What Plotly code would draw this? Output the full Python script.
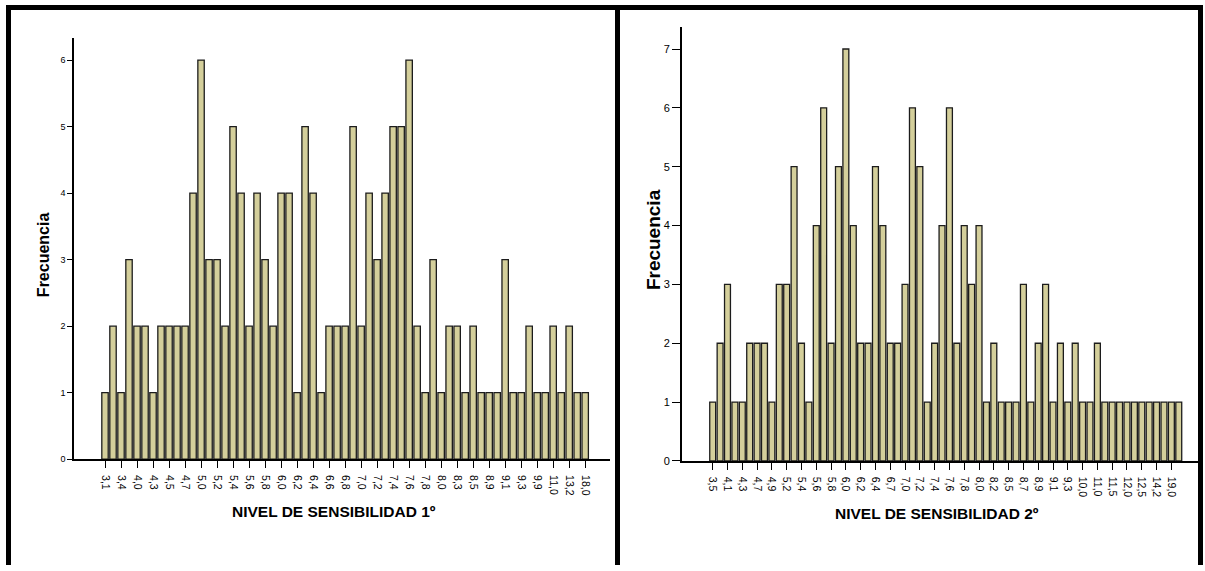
import plotly.graph_objects as go

# ---------------- data ----------------
# Panel 1: NIVEL DE SENSIBILIDAD 1º (every bar is a category; odd ones are labelled)
cats1 = ["3,1", "3,3", "3,4", "3,8", "4,0", "4,2", "4,3", "4,4", "4,5", "4,6",
         "4,7", "4,9", "5,0", "5,1", "5,2", "5,3", "5,4", "5,5", "5,6", "5,7",
         "5,8", "5,9", "6,0", "6,1", "6,2", "6,3", "6,4", "6,5", "6,6", "6,7",
         "6,8", "6,9", "7,0", "7,1", "7,2", "7,3", "7,4", "7,5", "7,6", "7,7",
         "7,8", "7,9", "8,0", "8,2", "8,3", "8,4", "8,5", "8,7", "8,9", "9,0",
         "9,1", "9,2", "9,3", "9,6", "9,9", "10,4", "11,0", "12,0", "13,2", "14,8",
         "18,0"]
freq1 = [1, 2, 1, 3, 2, 2, 1, 2, 2, 2,
         2, 4, 6, 3, 3, 2, 5, 4, 2, 4,
         3, 2, 4, 4, 1, 5, 4, 1, 2, 2,
         2, 5, 2, 4, 3, 4, 5, 5, 6, 2,
         1, 3, 1, 2, 2, 1, 2, 1, 1, 1,
         3, 1, 1, 2, 1, 1, 2, 1, 2, 1,
         1]
ticks1 = ["3,1", "3,4", "4,0", "4,3", "4,5", "4,7", "5,0", "5,2", "5,4", "5,6",
          "5,8", "6,0", "6,2", "6,4", "6,6", "6,8", "7,0", "7,2", "7,4", "7,6",
          "7,8", "8,0", "8,3", "8,5", "8,9", "9,1", "9,3", "9,9", "11,0", "13,2",
          "18,0"]

# Panel 2: NIVEL DE SENSIBILIDAD 2º
cats2 = ["3,5", "3,9", "4,1", "4,2", "4,3", "4,5", "4,7", "4,8", "4,9", "5,0",
         "5,2", "5,3", "5,4", "5,5", "5,6", "5,7", "5,8", "5,9", "6,0", "6,1",
         "6,2", "6,3", "6,4", "6,5", "6,7", "6,8", "7,0", "7,1", "7,2", "7,3",
         "7,4", "7,5", "7,6", "7,7", "7,8", "7,9", "8,0", "8,1", "8,2", "8,3",
         "8,5", "8,6", "8,7", "8,8", "8,9", "9,0", "9,1", "9,2", "9,3", "9,5",
         "10,0", "10,5", "11,0", "11,2", "11,5", "11,8", "12,0", "12,2", "12,5", "13,0",
         "14,2", "15,0", "19,0", "20,0"]
freq2 = [1, 2, 3, 1, 1, 2, 2, 2, 1, 3,
         3, 5, 2, 1, 4, 6, 2, 5, 7, 4,
         2, 2, 5, 4, 2, 2, 3, 6, 5, 1,
         2, 4, 6, 2, 4, 3, 4, 1, 2, 1,
         1, 1, 3, 1, 2, 3, 1, 2, 1, 2,
         1, 1, 2, 1, 1, 1, 1, 1, 1, 1,
         1, 1, 1, 1]
ticks2 = ["3,5", "4,1", "4,3", "4,7", "4,9", "5,2", "5,4", "5,6", "5,8", "6,0",
          "6,2", "6,4", "6,7", "7,0", "7,2", "7,4", "7,6", "7,8", "8,0", "8,2",
          "8,5", "8,7", "8,9", "9,1", "9,3", "10,0", "11,0", "11,5", "12,0", "12,5",
          "14,2", "19,0"]

yticks1 = [0, 1, 2, 3, 4, 5, 6]
yticks2 = [0, 1, 2, 3, 4, 5, 6, 7]

# ---------------- styling ----------------
W, H = 1205, 571
FILL = "#d4cf9b"
EDGE = "#1c1c1c"
FONT = "Liberation Sans, Arial, sans-serif"
VK = 0.989  # vertical correction factor


def px_x(p):
    return p / W


def px_y(p):
    return 1 - (p / VK) / H


fig = go.Figure()
fig.add_trace(go.Bar(x=cats1, y=freq1, xaxis="x", yaxis="y",
                     marker=dict(color=FILL, line=dict(color=EDGE, width=1.3)),
                     showlegend=False))
fig.add_trace(go.Bar(x=cats2, y=freq2, xaxis="x2", yaxis="y2",
                     marker=dict(color=FILL, line=dict(color=EDGE, width=1.3)),
                     showlegend=False))

axis_common = dict(showgrid=False, zeroline=False, showline=True,
                   linecolor="black", linewidth=1.5, ticks="outside",
                   tickcolor="black", tickwidth=1.3)

fig.update_layout(
    width=W, height=H,
    margin=dict(l=0, r=0, t=0, b=0, pad=0),
    paper_bgcolor="white", plot_bgcolor="white",
    bargap=0.2,
    font=dict(family=FONT, color="black"),
    xaxis=dict(**axis_common, type="category", domain=[px_x(74), px_x(610)],
               range=[-3.875, 63.1], tickmode="array", tickvals=ticks1,
               ticktext=ticks1, tickangle=90, ticklen=7, ticklabelstandoff=5,
               tickfont=dict(size=10.5, family=FONT), anchor="y"),
    yaxis=dict(**axis_common, domain=[px_y(459), px_y(38)],
               range=[0, 6.331], tickmode="array", tickvals=yticks1,
               ticklen=5, tickfont=dict(size=9, family=FONT), anchor="x"),
    xaxis2=dict(**axis_common, type="category", domain=[px_x(681.7), px_x(1198)],
                range=[-4.19, 65.6], tickmode="array", tickvals=ticks2,
                ticktext=ticks2, tickangle=90, ticklen=7, ticklabelstandoff=5,
                tickfont=dict(size=10.5, family=FONT), anchor="y2"),
    yaxis2=dict(**axis_common, domain=[px_y(460.7), px_y(26.7)],
                range=[0, 7.379], tickmode="array", tickvals=yticks2,
                ticklen=8, tickfont=dict(size=11, family=FONT), anchor="x2"),
)

# axis titles
ann = [
    dict(text="<b>Frecuencia</b>", x=px_x(43), y=px_y(255), textangle=-90,
         font=dict(size=16, family=FONT)),
    dict(text="<b>Frecuencia</b>", x=px_x(653), y=px_y(240), textangle=-90,
         font=dict(size=19, family=FONT)),
    dict(text="<b>NIVEL DE SENSIBILIDAD 1º</b>", x=px_x(333.5), y=px_y(511),
         font=dict(size=15.5, family=FONT)),
    dict(text="<b>NIVEL DE SENSIBILIDAD 2º</b>", x=px_x(936.5), y=px_y(513),
         font=dict(size=15.5, family=FONT)),
]
for a in ann:
    fig.add_annotation(xref="paper", yref="paper", showarrow=False,
                       xanchor="center", yanchor="middle", **a)

# outer frame and divider
frame = [
    (6, 5, 1203, 10),      # top border
    (6, 5, 11, 575),       # left border
    (615, 5, 620, 575),    # divider
    (1198, 5, 1203, 575),  # right border
]
for x0, y0, x1, y1 in frame:
    fig.add_shape(type="rect", xref="paper", yref="paper",
                  x0=px_x(x0), x1=px_x(x1), y0=max(px_y(y1), 0), y1=px_y(y0),
                  fillcolor="black", line=dict(width=0), layer="above")

fig.write_html("out.html")
